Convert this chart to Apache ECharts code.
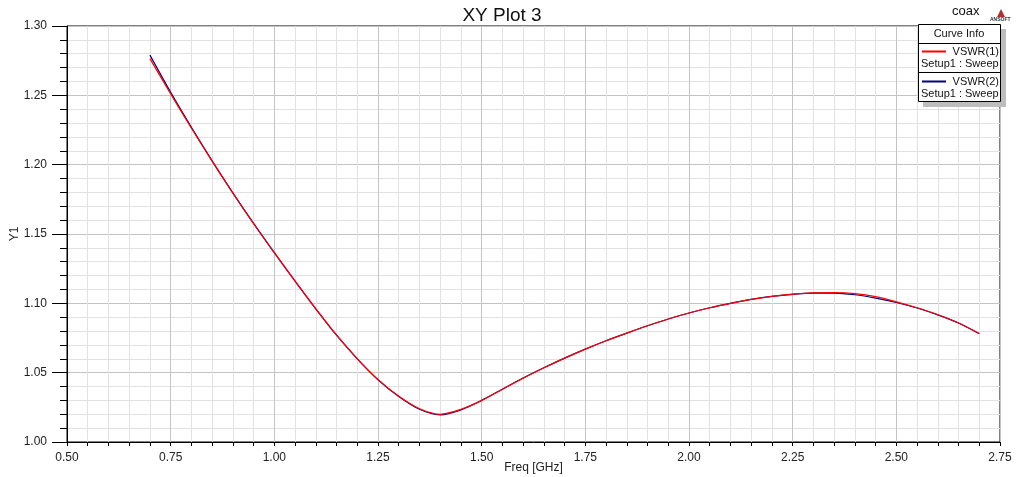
<!DOCTYPE html>
<html>
<head>
<meta charset="utf-8">
<script src="https://cdn.jsdelivr.net/npm/echarts@6/dist/echarts.min.js"></script>
<style>
html,body{margin:0;padding:0;background:#fff;}
#chart{width:1022px;height:477px;}
</style>
</head>
<body>
<div id="chart"></div>
<script>
// Frequencies (GHz)
const freq = [0.70,0.75,0.80,0.85,0.90,0.95,1.00,1.05,1.10,1.15,1.20,1.25,1.30,1.35,1.40,1.45,1.50,1.55,1.60,1.65,1.70,1.75,1.80,1.85,1.90,1.95,2.00,2.05,2.10,2.15,2.20,2.25,2.30,2.35,2.40,2.45,2.50,2.55,2.60,2.65,2.70];
// VSWR(1) - red
const vswr1 = [1.2765,1.2510,1.2263,1.2024,1.1794,1.1574,1.1364,1.1160,1.0960,1.0770,1.0600,1.0450,1.0330,1.0240,1.0200,1.0235,1.0300,1.0380,1.0460,1.0535,1.0605,1.0670,1.0730,1.0785,1.0838,1.0887,1.0930,1.0968,1.1000,1.1028,1.1050,1.1066,1.1076,1.1078,1.1070,1.1048,1.1011,1.0968,1.0918,1.0858,1.0782];
// VSWR(2) - blue
const vswr2 = [1.2790,1.2522,1.2270,1.2028,1.1797,1.1576,1.1365,1.1160,1.0960,1.0770,1.0600,1.0449,1.0328,1.0236,1.0196,1.0232,1.0300,1.0381,1.0461,1.0535,1.0605,1.0670,1.0730,1.0785,1.0838,1.0887,1.0930,1.0968,1.1000,1.1028,1.1050,1.1065,1.1074,1.1074,1.1062,1.1038,1.1006,1.0966,1.0917,1.0858,1.0780];

const xTicks = {min:0.5, max:2.75, interval:0.25};
const yTicks = {min:1.0, max:1.3, interval:0.05};

const chart = echarts.init(document.getElementById('chart'), null, {renderer:'canvas'});
const FONT = '"Liberation Sans", Arial, sans-serif';
const s1 = freq.map((f,i)=>[f, vswr1[i]]);
const s2 = freq.map((f,i)=>[f, vswr2[i]]);

chart.setOption({
  animation:false,
  backgroundColor:'#ffffff',
  textStyle:{fontFamily:FONT},
  title:{
    text:'XY Plot 3', left:497, top:1, textAlign:'center',
    textStyle:{fontFamily:FONT, fontSize:19, fontWeight:'normal', color:'#111'}
  },
  grid:{left:67, top:26, right:22, bottom:35, show:true, borderColor:'#000', borderWidth:1,
        backgroundColor:'#fff', containLabel:false, outerBoundsMode:'none'},
  xAxis:{
    type:'value', min:xTicks.min, max:xTicks.max, interval:xTicks.interval,
    name:'Freq [GHz]', nameLocation:'middle', nameGap:20, nameMoveOverlap:false,
    nameTextStyle:{fontFamily:FONT, fontSize:12, color:'#222'},
    axisLine:{show:true, lineStyle:{color:'#000', width:1}},
    axisTick:{show:true, length:4, lineStyle:{color:'#000'}},
    minorTick:{show:true, splitNumber:5, length:4, lineStyle:{color:'#000'}},
    splitLine:{show:true, lineStyle:{color:'#c4c4c4', width:1}},
    minorSplitLine:{show:true, lineStyle:{color:'#e2e2e2', width:1}},
    axisLabel:{fontFamily:FONT, fontSize:12, color:'#222', margin:10, formatter:v=>v.toFixed(2)}
  },
  yAxis:{
    type:'value', min:yTicks.min, max:yTicks.max, interval:yTicks.interval,
    name:'Y1', nameLocation:'middle', nameGap:46, nameRotate:90, nameMoveOverlap:false,
    nameTextStyle:{fontFamily:FONT, fontSize:12, color:'#222'},
    axisLine:{show:true, lineStyle:{color:'#000', width:1}},
    axisTick:{show:true, length:15, lineStyle:{color:'#000'}},
    minorTick:{show:true, splitNumber:5, length:7, lineStyle:{color:'#000'}},
    splitLine:{show:true, lineStyle:{color:'#c4c4c4', width:1}},
    minorSplitLine:{show:true, lineStyle:{color:'#e2e2e2', width:1}},
    axisLabel:{fontFamily:FONT, fontSize:12, color:'#222', margin:20, formatter:v=>v.toFixed(2)}
  },
  series:[
    {name:'VSWR(1)', type:'line', data:s1, showSymbol:false, smooth:0.3, lineStyle:{color:'#ff0000', width:1.2}, z:3},
    {name:'VSWR(2)', type:'line', data:s2, showSymbol:false, smooth:0.3, lineStyle:{color:'#000080', width:1.2}, z:2}
  ],
  graphic:[
    {type:'text', left:952, top:5, style:{text:'coax', font:'13px '+FONT, fill:'#111'}},
    {type:'polygon', shape:{points:[[1001,9],[997,17],[1005,17]]}, style:{fill:'#b03030'}},
    {type:'text', left:990, top:17, style:{text:'ANSOFT', font:'bold 5px '+FONT, fill:'#333'}},
    // legend shadow
    {type:'rect', shape:{x:923, y:29, width:83, height:78}, style:{fill:'#bdbdbd'}, z:10},
    {type:'rect', shape:{x:918.5, y:24.5, width:82, height:77}, style:{fill:'#fff', stroke:'#000', lineWidth:1}, z:11},
    {type:'text', x:959, y:34, style:{text:'Curve Info', font:'11px '+FONT, fill:'#111', align:'center', verticalAlign:'middle'}, z:12},
    {type:'line', shape:{x1:918.5, y1:43.5, x2:1000.5, y2:43.5}, style:{stroke:'#000', lineWidth:1}, z:12},
    {type:'line', shape:{x1:922, y1:51.5, x2:946, y2:51.5}, style:{stroke:'#ff0000', lineWidth:2}, z:12},
    {type:'text', x:999, y:52, style:{text:'VSWR(1)', font:'11px '+FONT, fill:'#111', align:'right', verticalAlign:'middle'}, z:12},
    {type:'text', x:921, y:64, style:{text:'Setup1 : Sweep', font:'11px '+FONT, fill:'#111', align:'left', verticalAlign:'middle'}, z:12},
    {type:'line', shape:{x1:918.5, y1:72.5, x2:1000.5, y2:72.5}, style:{stroke:'#000', lineWidth:1}, z:12},
    {type:'line', shape:{x1:922, y1:81.5, x2:946, y2:81.5}, style:{stroke:'#000080', lineWidth:2}, z:12},
    {type:'text', x:999, y:82, style:{text:'VSWR(2)', font:'11px '+FONT, fill:'#111', align:'right', verticalAlign:'middle'}, z:12},
    {type:'text', x:921, y:94, style:{text:'Setup1 : Sweep', font:'11px '+FONT, fill:'#111', align:'left', verticalAlign:'middle'}, z:12}
  ]
});
</script>
</body>
</html>
